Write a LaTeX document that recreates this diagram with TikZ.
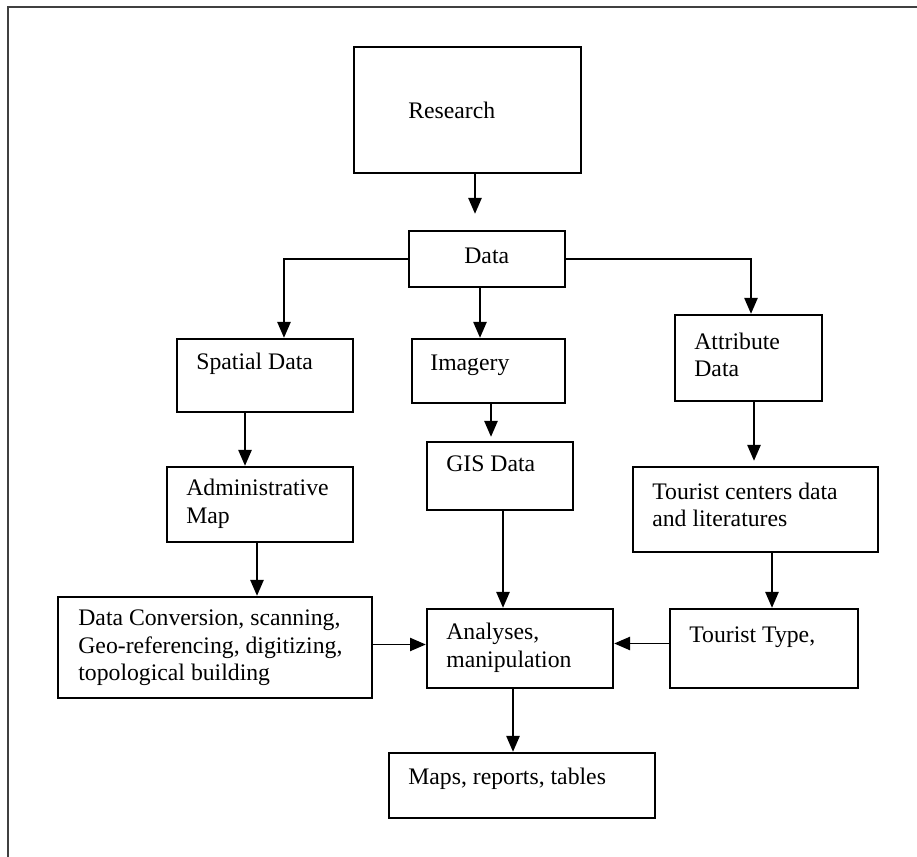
\documentclass[tikz,border=0pt]{standalone}
\usepackage{fontspec}
\setmainfont{Liberation Serif}
\usetikzlibrary{arrows.meta}

\tikzset{
	box/.style={draw, line width=1.35pt, inner sep=0pt},
	sz/.style 2 args={minimum width=#1*0.02cm, minimum height=#2*0.02cm},
	lbl/.style={anchor=west, inner sep=0pt, align=left, font=\fontsize{13.5}{15.6}\selectfont},
	arr/.style={-{Triangle[length=9pt,width=7.5pt]}, line width=1pt}
}

\begin{document}
\begin{tikzpicture}[x=0.02cm,y=-0.02cm]
	\useasboundingbox (0,0) rectangle (917,857);
	% frame (only top and left edges show)
	\draw[line width=1.2pt, black!75] (917,7) -- (8,7) -- (8,857);

	% boxes
	\node[box, sz={227}{126}] (res) at (467.5,110) {};
	\node[box, sz={156}{56}] (dat) at (487,259) {};
	\node[box, sz={176}{73}] (spa) at (265,375.5) {};
	\node[box, sz={153}{64}] (img) at (488.5,371) {};
	\node[box, sz={147}{86}] (att) at (748.5,358) {};
	\node[box, sz={186}{75}] (adm) at (260,504.5) {};
	\node[box, sz={146}{68}] (gis) at (500,476) {};
	\node[box, sz={245}{85}] (tcd) at (755.5,509.5) {};
	\node[box, sz={314}{101}] (dcv) at (215,647.5) {};
	\node[box, sz={186}{79}] (ana) at (520,648.5) {};
	\node[box, sz={188}{79}] (tty) at (764,648.5) {};
	\node[box, sz={266}{65}] (map) at (522,785.5) {};

	% texts
	\node[lbl] (resT) at (408,110) {Research};
	\node[lbl] (datT) at (464,256) {Data};
	\node[lbl] (spaT) at (196,364) {Spatial Data};
	\node[lbl] (imgT) at (430,365) {Imagery};
	\node[lbl] (attT) at (694,355) {Attribute\\Data};
	\node[lbl] (admT) at (186,504) {Administrative\\Map};
	\node[lbl] (gisT) at (446,464) {GIS Data};
	\node[lbl] (tcdT) at (652,505) {Tourist centers data\\and literatures};
	\node[lbl] (dcvT) at (78,648) {Data Conversion, scanning,\\Geo-referencing, digitizing,\\topological building};
	\node[lbl] (anaT) at (446,648) {Analyses,\\manipulation};
	\node[lbl] (ttyT) at (689,637) {Tourist Type,};
	\node[lbl] (mapT) at (408,779) {Maps, reports, tables};

	% connectors
	\draw[arr, shorten >=0.32cm] (res.south) ++(7.5,0) coordinate (r1) -- (r1 |- dat.north);
	\draw[arr] (dat.west) -| ([xshift=0.38cm]spa.north);
	\draw[arr] ([xshift=-0.14cm]dat.south) coordinate (d1) -- (d1 |- img.north);
	\draw[arr] (dat.east) -| ([xshift=0.05cm]att.north);
	\draw[arr] ([xshift=-0.4cm]spa.south) coordinate (s1) -- (s1 |- adm.north);
	\draw[arr, shorten >=0.08cm] (img.south) ++(2.5,0) coordinate (i1) -- (i1 |- gis.north);
	\draw[arr, shorten >=0.1cm] (att.south) ++(5.5,0) coordinate (a1) -- (a1 |- tcd.north);
	\draw[arr] ([xshift=-0.06cm]adm.south) coordinate (m1) -- (m1 |- dcv.north);
	\draw[arr] ([xshift=0.06cm]gis.south) coordinate (g1) -- (g1 |- ana.north);
	\draw[arr] ([xshift=0.33cm]tcd.south) coordinate (t1) -- (t1 |- tty.north);
	\draw[arr] ([yshift=0.08cm]ana.west -| dcv.east) -- ([yshift=0.08cm]ana.west);
	\draw[arr] ([yshift=0.1cm]ana.east -| tty.west) -- ([yshift=0.1cm]ana.east);
	\draw[arr] ([xshift=-0.14cm]ana.south) coordinate (n1) -- (n1 |- map.north);
\end{tikzpicture}
\end{document}
